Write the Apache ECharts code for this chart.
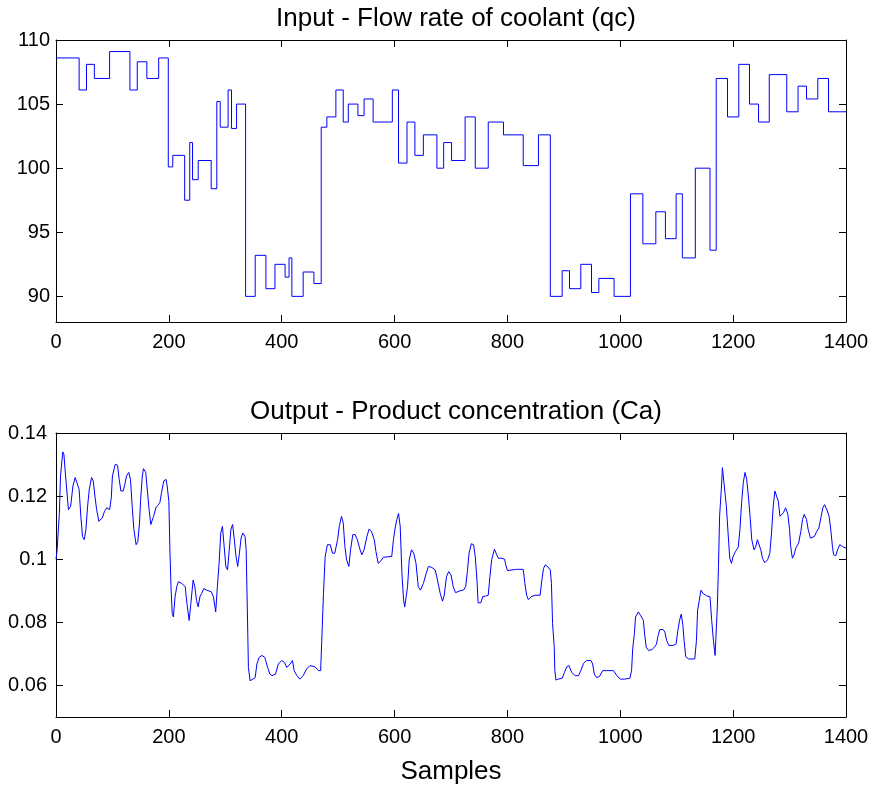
<!DOCTYPE html>
<html>
<head>
<meta charset="utf-8">
<script src="https://cdn.jsdelivr.net/npm/echarts@6/dist/echarts.min.js"></script>
<style>
html, body { margin: 0; padding: 0; background: #fff; }
#main { width: 873px; height: 788px; }
</style>
</head>
<body>
<div id="main"></div>
<script>
// input qc: sample where each level starts, and the level
var qcStart = [0, 41, 54, 68, 95, 131, 144, 161, 182, 199, 207, 228, 237, 242, 252, 275, 285, 291, 305, 311, 320,
    336, 353, 372, 388, 406, 413, 418, 438, 457, 470, 480, 496, 509, 518, 535, 546, 562, 596, 607, 622, 636, 651,
    675, 687, 701, 725, 743, 766, 793, 828, 855, 876, 897, 910, 930, 949, 962, 989, 1018, 1040, 1063, 1080, 1099,
    1110, 1133, 1159, 1170, 1190, 1210, 1229, 1245, 1264, 1295, 1315, 1330, 1350, 1369, 1400];
var qcLevel = [108.6, 106.1, 108.1, 107.0, 109.1, 106.1, 108.3, 107.0, 108.6, 100.1, 101.0, 97.5, 102.0, 99.1, 100.6, 98.4, 105.2, 103.2, 106.1, 103.1, 105.0,
    90.0, 93.2, 90.6, 92.5, 91.5, 93.0, 90.0, 91.9, 91.0, 103.2, 104.0, 106.1, 103.6, 105.0, 104.1, 105.4, 103.6, 106.1, 100.4, 103.6, 101.0, 102.6,
    100.0, 102.0, 100.6, 104.0, 100.0, 103.6, 102.6, 100.2, 102.6, 90.0, 92.0, 90.6, 92.5, 90.3, 91.4, 90.0, 98.0, 94.1, 96.6, 94.5, 98.0,
    93.0, 100.0, 93.6, 107.0, 104.0, 108.1, 105.0, 103.6, 107.3, 104.4, 106.4, 105.4, 107.0, 104.4, 104.4];

// output Ca: sample, concentration
var caX = [0, 2, 6, 8, 12, 14, 17, 20, 22, 26, 30, 34, 37, 41, 44, 47, 50, 53, 56, 59, 63, 66, 69, 72, 76, 79, 82, 86, 90, 95,
    98, 100, 105, 109, 112, 115, 119, 122, 125, 129, 132, 135, 138, 142, 145, 148, 150, 153, 155, 159, 162, 165, 168, 170, 173, 177, 180, 184, 187, 191,
    195, 197, 200, 202, 204, 206, 208, 211, 214, 217, 223, 229, 232, 236, 239, 243, 246, 249, 252, 255, 258, 262, 267, 275, 279, 283, 286, 289, 292, 295,
    298, 301, 304, 307, 310, 313, 316, 319, 322, 325, 328, 331, 335, 337, 339, 341, 344, 349, 353, 356, 360, 365, 370, 375, 379, 383, 389, 394, 400, 405,
    409, 415, 419, 422, 427, 432, 438, 444, 450, 459, 465, 469, 471, 474, 477, 481, 486, 490, 494, 499, 502, 506, 509, 512, 515, 519, 522, 526, 530, 534,
    538, 542, 546, 551, 555, 559, 564, 567, 571, 575, 580, 595, 598, 601, 604, 607, 610, 613, 616, 618, 623, 626, 630, 634, 638, 642, 646, 651, 656, 660,
    666, 672, 676, 681, 685, 688, 692, 696, 700, 704, 708, 716, 722, 726, 729, 732, 736, 740, 743, 746, 748, 753, 756, 761, 766, 769, 772, 777, 781, 784,
    790, 795, 797, 800, 808, 816, 828, 831, 834, 837, 842, 849, 858, 861, 864, 867, 871, 876, 878, 880, 883, 884, 886, 890, 897, 901, 905, 909, 914, 920,
    926, 930, 935, 940, 948, 951, 954, 958, 963, 969, 976, 988, 994, 1000, 1008, 1017, 1020, 1022, 1025, 1027, 1032, 1036, 1041, 1043, 1046, 1050, 1056, 1060, 1064, 1067,
    1070, 1076, 1079, 1082, 1086, 1094, 1099, 1102, 1105, 1108, 1111, 1113, 1116, 1121, 1132, 1135, 1137, 1140, 1143, 1147, 1153, 1159, 1162, 1165, 1168, 1170, 1172, 1174, 1176, 1179,
    1181, 1184, 1188, 1191, 1194, 1197, 1200, 1204, 1209, 1212, 1215, 1218, 1221, 1224, 1227, 1230, 1233, 1237, 1240, 1243, 1246, 1249, 1252, 1256, 1261, 1265, 1268, 1271, 1274, 1277,
    1280, 1283, 1286, 1289, 1293, 1297, 1300, 1302, 1305, 1308, 1311, 1316, 1320, 1323, 1326, 1330, 1333, 1337, 1340, 1344, 1348, 1352, 1356, 1359, 1362, 1366, 1370, 1373, 1376, 1378,
    1382, 1385, 1389, 1394, 1400];
var caY = [0.1000, 0.1030, 0.1147, 0.1264, 0.1340, 0.1333, 0.1264, 0.1200, 0.1157, 0.1168, 0.1232, 0.1259, 0.1253, 0.1221, 0.1136, 0.1072, 0.1062, 0.1094, 0.1168, 0.1221, 0.1259, 0.1248, 0.1200, 0.1157, 0.1120, 0.1115, 0.1131, 0.1152, 0.1163, 0.1157,
    0.1195, 0.1264, 0.1301, 0.1298, 0.1253, 0.1216, 0.1216, 0.1237, 0.1264, 0.1275, 0.1253, 0.1168, 0.1094, 0.1046, 0.1056, 0.1115, 0.1189, 0.1264, 0.1287, 0.1275, 0.1216, 0.1157, 0.1110, 0.1110, 0.1136, 0.1163, 0.1170, 0.1179, 0.1211, 0.1248,
    0.1253, 0.1232, 0.1184, 0.1019, 0.0902, 0.0828, 0.0817, 0.0881, 0.0913, 0.0929, 0.0923, 0.0913, 0.0860, 0.0806, 0.0860, 0.0934, 0.0913, 0.0870, 0.0849, 0.0881, 0.0891, 0.0907, 0.0902, 0.0897, 0.0881, 0.0833, 0.0913, 0.0987, 0.1083, 0.1104,
    0.1040, 0.0977, 0.0966, 0.1030, 0.1094, 0.1110, 0.1062, 0.1009, 0.0977, 0.1019, 0.1067, 0.1083, 0.1072, 0.1030, 0.0849, 0.0657, 0.0615, 0.0620, 0.0625, 0.0668, 0.0689, 0.0695, 0.0689, 0.0657, 0.0636, 0.0631, 0.0636, 0.0668, 0.0679, 0.0673,
    0.0657, 0.0668, 0.0679, 0.0647, 0.0631, 0.0620, 0.0631, 0.0652, 0.0663, 0.0659, 0.0647, 0.0647, 0.0743, 0.0891, 0.1009, 0.1046, 0.1046, 0.1019, 0.1019, 0.1062, 0.1104, 0.1136, 0.1115, 0.1040, 0.0998, 0.0977, 0.1030, 0.1078, 0.1078, 0.1062,
    0.1035, 0.1014, 0.1030, 0.1072, 0.1096, 0.1088, 0.1062, 0.1024, 0.0987, 0.0993, 0.1006, 0.1009, 0.1062, 0.1099, 0.1126, 0.1145, 0.1104, 0.0955, 0.0870, 0.0849, 0.0913, 0.0998, 0.1030, 0.1019, 0.0987, 0.0913, 0.0902, 0.0923, 0.0955, 0.0977,
    0.0974, 0.0966, 0.0934, 0.0891, 0.0867, 0.0886, 0.0945, 0.0961, 0.0950, 0.0913, 0.0894, 0.0900, 0.0902, 0.0913, 0.0961, 0.1019, 0.1049, 0.1046, 0.1009, 0.0934, 0.0862, 0.0862, 0.0881, 0.0883, 0.0886, 0.0945, 0.0998, 0.1032, 0.1014, 0.1003,
    0.1003, 0.1000, 0.0982, 0.0964, 0.0966, 0.0968, 0.0968, 0.0923, 0.0886, 0.0872, 0.0881, 0.0886, 0.0886, 0.0934, 0.0971, 0.0982, 0.0977, 0.0966, 0.0923, 0.0796, 0.0721, 0.0647, 0.0617, 0.0620, 0.0623, 0.0641, 0.0659, 0.0663, 0.0641, 0.0631,
    0.0631, 0.0647, 0.0670, 0.0679, 0.0679, 0.0668, 0.0636, 0.0625, 0.0628, 0.0647, 0.0647, 0.0647, 0.0631, 0.0620, 0.0620, 0.0623, 0.0647, 0.0716, 0.0764, 0.0817, 0.0833, 0.0822, 0.0806, 0.0764, 0.0721, 0.0711, 0.0713, 0.0721, 0.0730, 0.0758,
    0.0777, 0.0777, 0.0769, 0.0743, 0.0727, 0.0727, 0.0732, 0.0774, 0.0806, 0.0826, 0.0790, 0.0743, 0.0691, 0.0684, 0.0684, 0.0743, 0.0838, 0.0870, 0.0902, 0.0891, 0.0884, 0.0881, 0.0806, 0.0743, 0.0695, 0.0700, 0.0849, 0.0977, 0.1136, 0.1221,
    0.1290, 0.1285, 0.1168, 0.1083, 0.1003, 0.0987, 0.1009, 0.1024, 0.1038, 0.1094, 0.1179, 0.1243, 0.1275, 0.1253, 0.1200, 0.1136, 0.1062, 0.1030, 0.1040, 0.1062, 0.1056, 0.1030, 0.1003, 0.0989, 0.0998, 0.1019, 0.1083, 0.1168, 0.1216, 0.1221,
    0.1184, 0.1136, 0.1131, 0.1147, 0.1163, 0.1142, 0.1094, 0.1040, 0.1003, 0.1014, 0.1035, 0.1051, 0.1088, 0.1126, 0.1142, 0.1126, 0.1094, 0.1067, 0.1062, 0.1072, 0.1088, 0.1099, 0.1136, 0.1163, 0.1173, 0.1157, 0.1136, 0.1094, 0.1040, 0.1014,
    0.1011, 0.1030, 0.1046, 0.1040, 0.1035];

var FONT = 'Liberation Sans';
var axisLineStyle = { color: '#000', width: 1 };

// MATLAB-like box: ticks pointing inward on all four sides
function xAxisOf(grid, pos, showLabel, name) {
    return {
        gridIndex: grid, type: 'value', position: pos, min: 0, max: 1400, interval: 200,
        axisLine: { show: true, onZero: false, lineStyle: axisLineStyle },
        axisTick: { show: true, inside: true, length: 7, lineStyle: axisLineStyle },
        axisLabel: {
            show: showLabel, color: '#000', fontFamily: FONT, fontSize: 20, margin: 10,
            formatter: function (v) { return String(v); }
        },
        splitLine: { show: false },
        name: name || '', nameLocation: 'middle', nameGap: 42,
        nameTextStyle: { color: '#000', fontFamily: FONT, fontSize: 26 }
    };
}
function yAxisOf(grid, pos, min, max, showLabel, margin) {
    return {
        gridIndex: grid, type: 'value', position: pos, min: min, max: max,
        axisLine: { show: true, onZero: false, lineStyle: axisLineStyle },
        axisTick: { show: true, inside: true, length: 7, lineStyle: axisLineStyle },
        axisLabel: { show: showLabel, showMinLabel: false, color: '#000', fontFamily: FONT, fontSize: 20, margin: margin },
        splitLine: { show: false }
    };
}

var myChart = echarts.init(document.getElementById('main'));

var option = {
    backgroundColor: '#FFFFFF',
    animation: false,
    title: [
        { text: 'Input - Flow rate of coolant (qc)', left: 451, top: 1, textAlign: 'center',
          textStyle: { color: '#000', fontFamily: FONT, fontSize: 26, fontWeight: 'normal' } },
        { text: 'Output - Product concentration (Ca)', left: 451, top: 394, textAlign: 'center',
          textStyle: { color: '#000', fontFamily: FONT, fontSize: 26, fontWeight: 'normal' } }
    ],
    grid: [
        { left: 56, top: 40, width: 790, height: 282 },
        { left: 56, top: 433, width: 790, height: 284 }
    ],
    xAxis: [
        xAxisOf(0, 'bottom', true),
        xAxisOf(0, 'top', false),
        xAxisOf(1, 'bottom', true, 'Samples'),
        xAxisOf(1, 'top', false)
    ],
    yAxis: [
        yAxisOf(0, 'left', 88, 110, true, 6),
        yAxisOf(0, 'right', 88, 110, false, 6),
        yAxisOf(1, 'left', 0.05, 0.14, true, 9),
        yAxisOf(1, 'right', 0.05, 0.14, false, 9)
    ],
    series: [
        {
            name: 'qc', type: 'line', step: 'end', xAxisIndex: 0, yAxisIndex: 0,
            showSymbol: false, lineStyle: { color: '#0000ff', width: 1 },
            data: qcStart.map(function (s, i) { return [s, qcLevel[i]]; })
        },
        {
            name: 'Ca', type: 'line', xAxisIndex: 2, yAxisIndex: 2,
            showSymbol: false, lineStyle: { color: '#0000ff', width: 1 },
            data: caX.map(function (s, i) { return [s, caY[i]]; })
        }
    ]
};

myChart.setOption(option);
</script>
</body>
</html>
